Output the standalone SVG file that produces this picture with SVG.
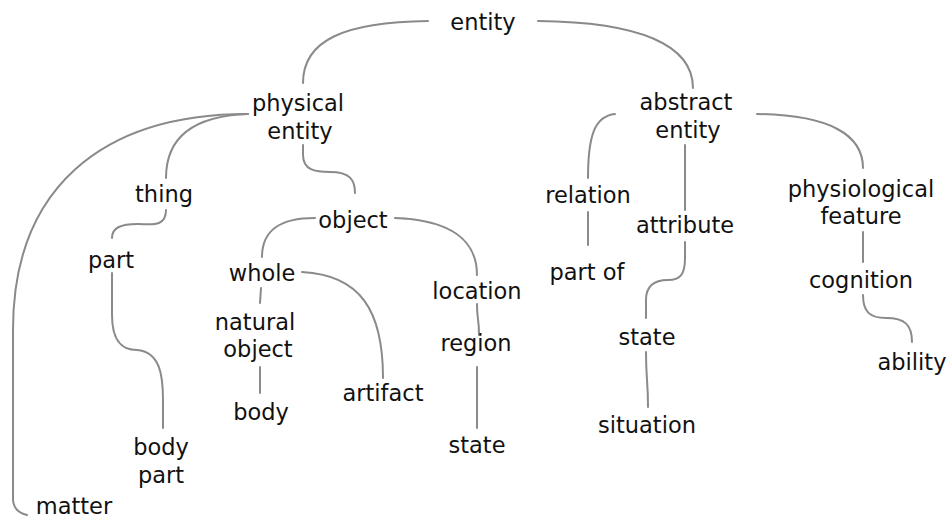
<svg xmlns="http://www.w3.org/2000/svg" width="948" height="518" viewBox="0 0 948 518">
<style>
text{font-family:"DejaVu Sans","Verdana",sans-serif;font-size:22.5px;fill:#111;text-anchor:middle}
.c path{fill:none;stroke:#8a8a8a;stroke-width:2;stroke-linecap:round}
</style>
<rect width="948" height="518" fill="#fff"/>
<g class="c" id="connectors">
<path d="M428,21 C345,22 303,40 303,83"/>
<path d="M538,21 C640,22 693,45 693,88"/>
<path d="M248,114 C100,114 13,190 13,330 L13,500 Q14,512 27,515"/>
<path d="M248,114 C190,116 166,140 166,178"/>
<path d="M166,210 C166,228 150,224 138,224 C120,224 112,228 112,238"/>
<path d="M112,273 L112,315 C112,345 125,350 137,350 C160,352 163,375 163,400 L163,428"/>
<path d="M303,145 L303,155 C303,170 315,172 330,172 C350,172 355,180 355,193"/>
<path d="M315,218 C280,218 262,230 262,257"/>
<path d="M395,218 C450,220 477,240 477,275"/>
<path d="M302,272 C360,275 383,310 383,378"/>
<path d="M261,288 L260,303"/>
<path d="M260,367 L260,393"/>
<path d="M477,304 C477,320 479,318 479,335"/>
<path d="M477,367 L477,428"/>
<path d="M615,114 C595,116 588,135 588,178"/>
<path d="M588,212 L588,245"/>
<path d="M685,145 L685,210"/>
<path d="M685,242 L685,258 C685,275 680,280 668,280 C655,280 646,285 646,300 L646,318"/>
<path d="M646,352 C646,380 648,380 648,407"/>
<path d="M757,114 C830,115 863,135 863,168"/>
<path d="M863,232 L863,262"/>
<path d="M863,295 C863,312 870,318 886,318 C905,318 912,325 912,342"/>
</g>
<g id="n-entity"><text x="483" y="30">entity</text></g>
<g id="n-physical-entity"><text x="298" y="111">physical</text><text x="300" y="139">entity</text></g>
<g id="n-abstract-entity"><text x="686" y="110">abstract</text><text x="688" y="138">entity</text></g>
<g id="n-thing"><text x="164" y="202">thing</text></g>
<g id="n-part"><text x="111" y="268">part</text></g>
<g id="n-body-part"><text x="161" y="455">body</text><text x="161" y="483">part</text></g>
<g id="n-matter"><text x="74" y="514">matter</text></g>
<g id="n-object"><text x="353" y="228">object</text></g>
<g id="n-whole"><text x="262" y="281">whole</text></g>
<g id="n-natural-object"><text x="255" y="330">natural</text><text x="258" y="357">object</text></g>
<g id="n-body"><text x="261" y="420">body</text></g>
<g id="n-artifact"><text x="383" y="401">artifact</text></g>
<g id="n-location"><text x="477" y="299">location</text></g>
<g id="n-region"><text x="476" y="351">region</text></g>
<g id="n-state-1"><text x="477" y="453">state</text></g>
<g id="n-relation"><text x="588" y="203">relation</text></g>
<g id="n-part-of"><text x="587" y="280">part of</text></g>
<g id="n-attribute"><text x="685" y="233">attribute</text></g>
<g id="n-state-2"><text x="647" y="345">state</text></g>
<g id="n-situation"><text x="647" y="433">situation</text></g>
<g id="n-physiological-feature"><text x="861" y="197">physiological</text><text x="861" y="224">feature</text></g>
<g id="n-cognition"><text x="861" y="288">cognition</text></g>
<g id="n-ability"><text x="912" y="370">ability</text></g>
</svg>
